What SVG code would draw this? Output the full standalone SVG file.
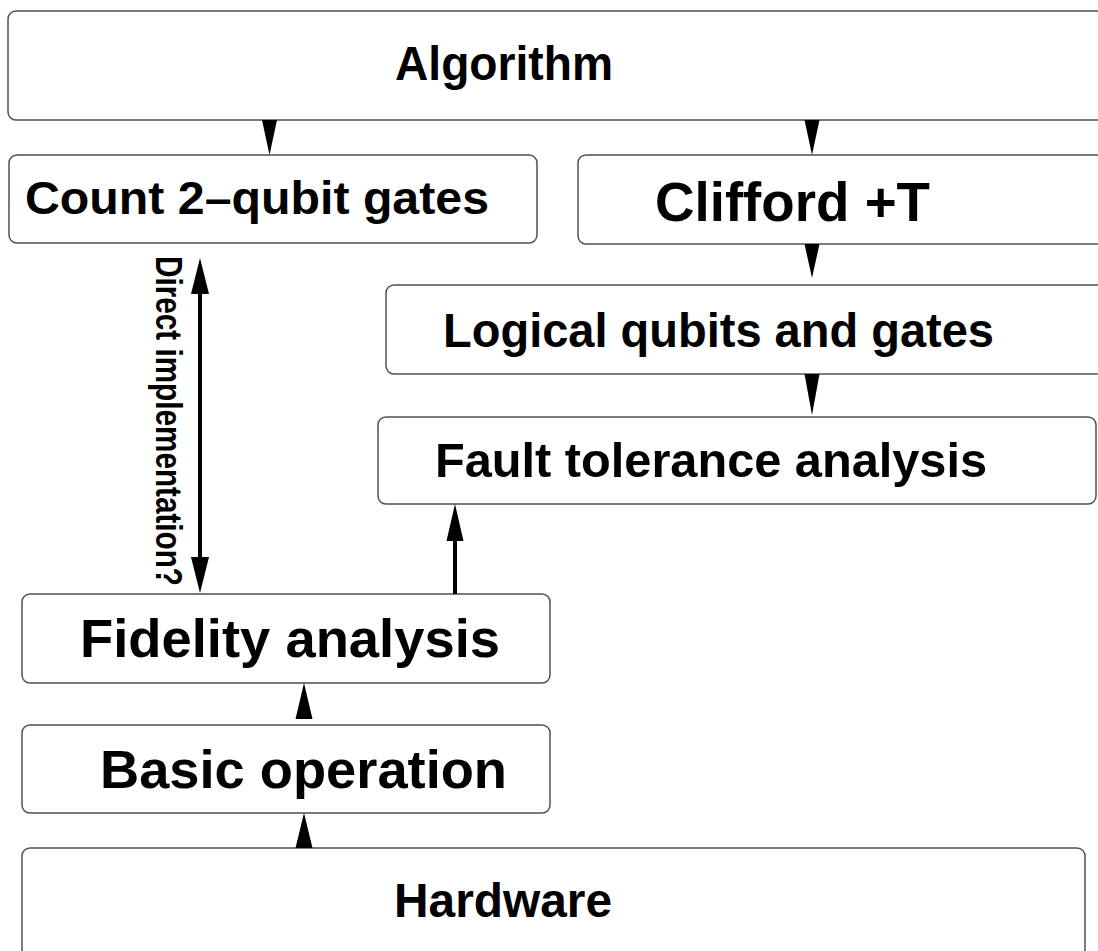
<svg xmlns="http://www.w3.org/2000/svg" width="1098" height="951" viewBox="0 0 1098 951">
<style>
.box{fill:#fff;stroke:#505050;stroke-width:1.5}
.t{font-family:"Liberation Sans",Arial,Helvetica,sans-serif;font-weight:bold;fill:#000}
.ah{fill:#000;stroke:none}
.ln{stroke:#000;stroke-width:4;fill:none}
</style>
<rect width="1098" height="951" fill="#fff"/>
<g id="algorithm">
<rect class="box" x="8" y="11" width="1100" height="109" rx="8"/>
<text class="t" x="395" y="80" font-size="48" textLength="218" lengthAdjust="spacingAndGlyphs">Algorithm</text>
</g>
<g id="count">
<rect class="box" x="9" y="155" width="528" height="88" rx="8"/>
<text class="t" x="25" y="214" font-size="47" textLength="464" lengthAdjust="spacingAndGlyphs">Count 2–qubit gates</text>
</g>
<g id="clifford">
<rect class="box" x="578" y="155" width="530" height="89" rx="8"/>
<text class="t" x="655" y="221" font-size="55" textLength="275" lengthAdjust="spacingAndGlyphs">Clifford +T</text>
</g>
<g id="logical">
<rect class="box" x="386" y="285" width="722" height="89" rx="8"/>
<text class="t" x="443" y="347" font-size="48" textLength="551" lengthAdjust="spacingAndGlyphs">Logical qubits and gates</text>
</g>
<g id="fault">
<rect class="box" x="378" y="417" width="718" height="87" rx="8"/>
<text class="t" x="435" y="477" font-size="48" textLength="552" lengthAdjust="spacingAndGlyphs">Fault tolerance analysis</text>
</g>
<g id="fidelity">
<rect class="box" x="22" y="594" width="528" height="89" rx="8"/>
<text class="t" x="80" y="657" font-size="54" textLength="420" lengthAdjust="spacingAndGlyphs">Fidelity analysis</text>
</g>
<g id="basic">
<rect class="box" x="22" y="725" width="528" height="88" rx="8"/>
<text class="t" x="100" y="788" font-size="54" textLength="407" lengthAdjust="spacingAndGlyphs">Basic operation</text>
</g>
<g id="hardware">
<rect class="box" x="22" y="848" width="1063" height="120" rx="8"/>
<text class="t" x="394" y="917" font-size="48" textLength="218" lengthAdjust="spacingAndGlyphs">Hardware</text>
</g>
<g id="connectors">
<polygon class="ah" points="262,120 277,120 269.5,155"/>
<polygon class="ah" points="804.5,120 819.5,120 812,155"/>
<polygon class="ah" points="804.5,244 819.5,244 812,278"/>
<polygon class="ah" points="804.5,374 819.5,374 812,415"/>
<polygon class="ah" points="295.5,719 312.5,719 304,683"/>
<polygon class="ah" points="295.5,848 312.5,848 304,813"/>
<line class="ln" x1="455" y1="594" x2="455" y2="538"/>
<polygon class="ah" points="446.5,541 463.5,541 455,504"/>
<line class="ln" x1="200" y1="290" x2="200" y2="560"/>
<polygon class="ah" points="191,294 209,294 200,258"/>
<polygon class="ah" points="191,557 209,557 200,593"/>
<text class="t" transform="translate(156,256) rotate(90)" x="0" y="0" font-size="36" textLength="330" lengthAdjust="spacingAndGlyphs">Direct implementation?</text>
</g>
</svg>
